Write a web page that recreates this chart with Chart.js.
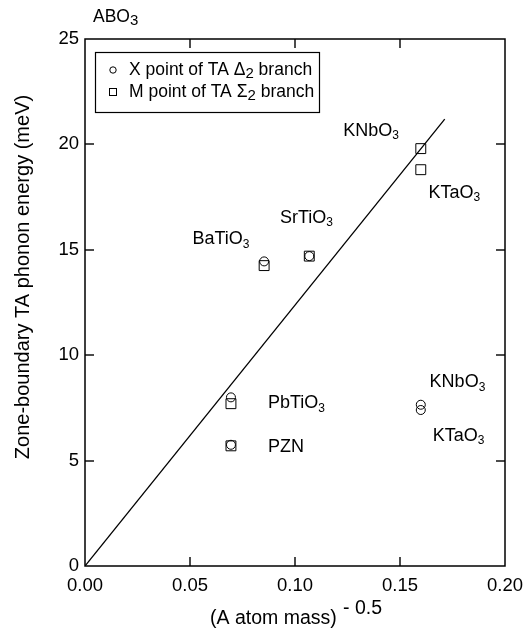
<!DOCTYPE html>
<html>
<head>
<meta charset="utf-8">
<script src="https://cdn.jsdelivr.net/npm/chart.js@4.4.1/dist/chart.umd.min.js"></script>
<style>
  html, body { margin: 0; padding: 0; background: #fff; }
  #wrap { width: 526px; height: 639px; position: relative; }
</style>
</head>
<body>
<div id="wrap"><canvas id="chart"></canvas></div>
<script>
// A atom mass^-0.5 for each compound (Ba, Sr, Pb, Pb(PZN), K, K)
const massX = [0.0853, 0.1068, 0.0695, 0.0695, 0.1599, 0.1599];
// X point of TA Delta2 branch (meV)
const xPointEnergy = [14.45, 14.7, 8.0, 5.75, 7.65, 7.4];
// M point of TA Sigma2 branch (meV)
const mPointEnergy = [14.25, 14.7, 7.7, 5.7, 19.8, 18.8];
// straight guide line through the origin
const fitX = [0, 0.1713];
const fitY = [0, 21.2];

const xTicks = [0, 0.05, 0.10, 0.15, 0.20];
const yTicks = [0, 5, 10, 15, 20, 25];

// compound labels; "_" marks the subscript part
const labelText = ['KNbO_3', 'KTaO_3', 'SrTiO_3', 'BaTiO_3', 'PbTiO_3', 'PZN', 'KNbO_3', 'KTaO_3'];
const labelX = [0.123, 0.1636, 0.0928, 0.0512, 0.0871, 0.0871, 0.1641, 0.1656];
const labelY = [20.64, 17.7, 16.5, 15.5, 7.72, 5.63, 8.71, 6.16];

const FONT = '"Liberation Sans", Arial, Helvetica, sans-serif';
Chart.defaults.font.family = FONT;
Chart.defaults.color = '#000';

const toPts = (xs, ys) => xs.map((x, i) => ({ x: x, y: ys[i] }));

// text with an optional subscript after "_"
function chemText(ctx, text, x, y, size, subSize, drop) {
  const parts = text.split('_');
  ctx.font = size + 'px ' + FONT;
  ctx.textBaseline = 'middle';
  ctx.textAlign = 'left';
  ctx.fillText(parts[0], x, y);
  if (parts[1]) {
    const w = ctx.measureText(parts[0]).width;
    ctx.font = subSize + 'px ' + FONT;
    ctx.fillText(parts[1], x + w, y + drop);
  }
}

const decorations = {
  id: 'decorations',
  afterDraw(chart) {
    const ctx = chart.ctx;
    const a = chart.chartArea;
    const sx = chart.scales.x, sy = chart.scales.y;
    ctx.save();
    ctx.strokeStyle = '#000';
    ctx.fillStyle = '#000';

    // frame
    ctx.lineWidth = 1.5;
    ctx.strokeRect(a.left, a.top, a.right - a.left, a.bottom - a.top);

    // inward ticks on all sides
    const tl = 9;
    xTicks.slice(1, -1).forEach(v => {
      const px = Math.round(sx.getPixelForValue(v));
      ctx.fillRect(px - 0.7, a.bottom - tl, 1.4, tl);
      ctx.fillRect(px - 0.7, a.top, 1.4, tl);
    });
    yTicks.slice(1, -1).forEach(v => {
      const py = Math.round(sy.getPixelForValue(v));
      ctx.fillRect(a.left, py - 0.7, tl, 1.4);
      ctx.fillRect(a.right - tl, py - 0.7, tl, 1.4);
    });

    // legend box
    ctx.lineWidth = 1.2;
    ctx.strokeRect(95.5, 52.5, 224, 60);
    ctx.lineWidth = 1;
    ctx.beginPath();
    ctx.arc(113, 70, 3.2, 0, Math.PI * 2);
    ctx.stroke();
    ctx.strokeRect(109.5, 88.5, 7, 7);
    ctx.textBaseline = 'middle';
    ctx.textAlign = 'left';
    const legendRows = [['X point of TA \u0394', 'branch', 70], ['M point of TA \u03A3', 'branch', 92]];
    legendRows.forEach(r => {
      ctx.font = '17.5px ' + FONT;
      ctx.fillText(r[0], 129, r[2]);
      let w = ctx.measureText(r[0]).width;
      ctx.font = '15px ' + FONT;
      ctx.fillText('2', 129 + w, r[2] + 4);
      w += ctx.measureText('2').width;
      ctx.font = '17.5px ' + FONT;
      ctx.fillText(' ' + r[1], 129 + w, r[2]);
    });

    // compound labels
    labelText.forEach((t, i) => {
      chemText(ctx, t, sx.getPixelForValue(labelX[i]), sy.getPixelForValue(labelY[i]), 18, 12, 5);
    });

    // ABO3 header
    chemText(ctx, 'ABO_3', 93, 17, 17.5, 15, 4);

    // y title
    ctx.save();
    ctx.translate(23, 277);
    ctx.rotate(-Math.PI / 2);
    ctx.font = '20px ' + FONT;
    ctx.textAlign = 'center';
    ctx.textBaseline = 'middle';
    ctx.fillText('Zone-boundary TA phonon energy (meV)', 0, 0);
    ctx.restore();

    // x title with exponent
    ctx.font = '19.5px ' + FONT;
    ctx.textAlign = 'left';
    ctx.textBaseline = 'middle';
    ctx.fillText('(A atom mass)', 210, 619);
    ctx.fillText('- 0.5', 343, 609);

    ctx.restore();
  }
};

new Chart(document.getElementById('chart'), {
  data: {
    datasets: [
      {
        type: 'line',
        data: toPts(fitX, fitY),
        borderColor: '#000',
        borderWidth: 1.3,
        pointRadius: 0,
        fill: false,
        tension: 0
      },
      {
        type: 'scatter',
        data: toPts(massX, xPointEnergy),
        pointStyle: 'circle',
        pointRadius: 4.5,
        borderColor: '#000',
        borderWidth: 1,
        backgroundColor: 'rgba(0,0,0,0)'
      },
      {
        type: 'scatter',
        data: toPts(massX, mPointEnergy),
        pointStyle: 'rect',
        pointRadius: 7,
        borderColor: '#000',
        borderWidth: 1,
        backgroundColor: 'rgba(0,0,0,0)'
      }
    ]
  },
  options: {
    responsive: true,
    maintainAspectRatio: false,
    animation: false,
    events: [],
    layout: { padding: { top: 39, right: 21, left: 0, bottom: 0 } },
    plugins: { legend: { display: false }, tooltip: { enabled: false } },
    scales: {
      x: {
        type: 'linear',
        min: 0, max: 0.2,
        grid: { display: false, drawTicks: false },
        border: { display: false },
        afterBuildTicks: s => { s.ticks = xTicks.map(v => ({ value: v })); },
        ticks: { font: { size: 18.5 }, padding: 9, maxRotation: 0, callback: v => v.toFixed(2) },
        afterFit: s => { s.height = 73; s.paddingLeft = 0; s.paddingRight = 0; }
      },
      y: {
        type: 'linear',
        min: 0, max: 25,
        grid: { display: false, drawTicks: false },
        border: { display: false },
        afterBuildTicks: s => { s.ticks = yTicks.map(v => ({ value: v })); },
        ticks: { font: { size: 18.5 }, padding: 6, callback: v => String(v) },
        afterFit: s => { s.width = 85; s.paddingTop = 0; s.paddingBottom = 0; }
      }
    }
  },
  plugins: [decorations]
});
</script>
</body>
</html>
